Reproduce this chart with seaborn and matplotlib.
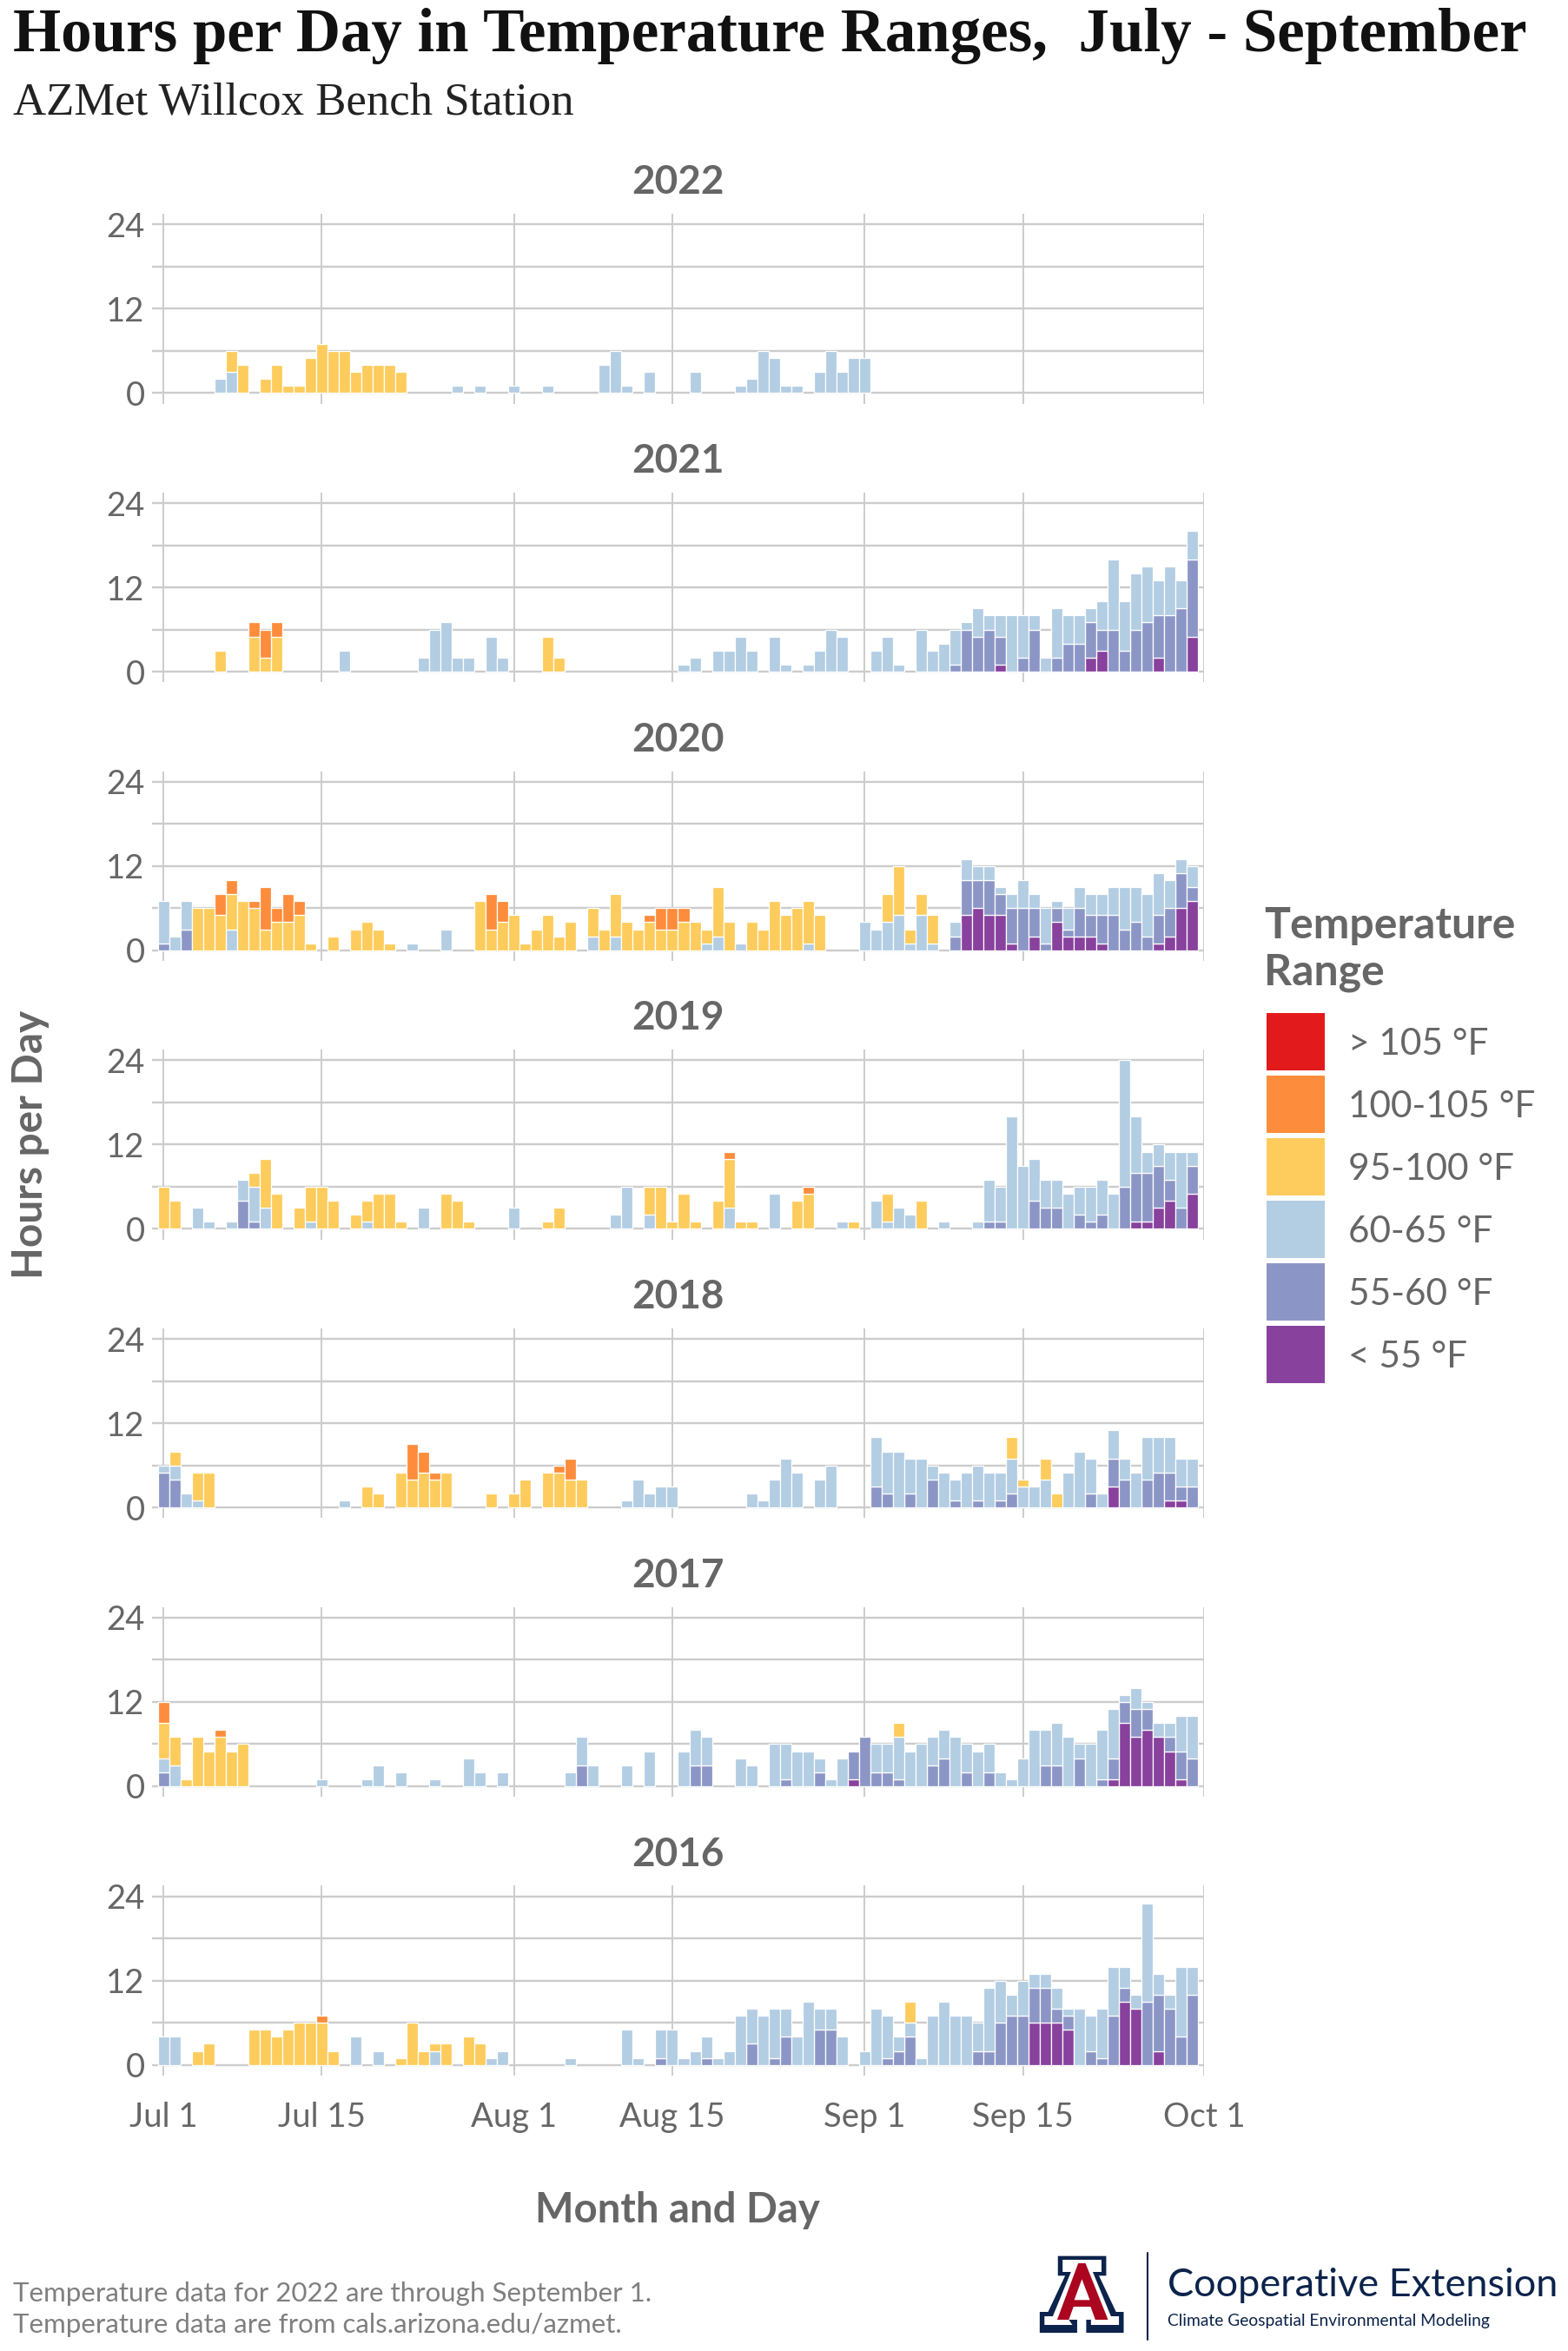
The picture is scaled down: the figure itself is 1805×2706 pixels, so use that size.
import matplotlib
matplotlib.use("Agg")
import matplotlib.pyplot as plt
from matplotlib.patches import Polygon, Rectangle
from matplotlib.lines import Line2D
import pandas as pd
import seaborn as sns

W, H = 1806, 2706

RANGES = ["> 105 °F", "100-105 °F", "95-100 °F", "60-65 °F", "55-60 °F", "< 55 °F"]
COLORS = ["#E31A1C", "#FD8D3C", "#FECC5C", "#B3CDE3", "#8C96C6", "#88419D"]
YEARS = [2022, 2021, 2020, 2019, 2018, 2017, 2016]
X_TICKS = [0, 14, 31, 45, 62, 76, 92]
X_LABELS = ["Jul 1", "Jul 15", "Aug 1", "Aug 15", "Sep 1", "Sep 15", "Oct 1"]
Y_TICKS = [0, 6, 12, 18, 24]
Y_LABELS = ["0", "", "12", "", "24"]

# hours per day, keyed by days since Jul 1
y2022_orange = {}
y2022_yellow = {6:3,7:4,9:2,10:4,11:1,12:1,13:5,14:7,15:6,16:6,17:3,18:4,19:4,20:4,21:3}
y2022_light = {5:2,6:3,26:1,28:1,31:1,34:1,39:4,40:6,41:1,43:3,47:3,51:1,52:2,53:6,54:5,55:1,56:1,58:3,59:6,60:3,61:5,62:5}
y2022_mid = {}
y2022_purple = {}

y2021_orange = {8:2,9:4,10:2}
y2021_yellow = {5:3,8:5,9:2,10:5,34:5,35:2}
y2021_light = {16:3,23:2,24:6,25:7,26:2,27:2,29:5,30:2,46:1,47:2,49:3,50:3,51:5,52:3,54:5,55:1,57:1,58:3,59:6,60:5,63:3,64:5,65:1,67:6,68:3,69:4,70:5,71:1,72:4,73:2,74:3,75:8,76:6,77:2,78:2,79:7,80:4,81:4,82:2,83:4,84:10,85:7,86:8,87:8,88:5,89:7,90:4,91:4}
y2021_mid = {70:1,71:6,72:5,73:6,74:4,76:2,77:6,79:2,80:4,81:4,82:5,83:3,84:6,85:3,86:6,87:7,88:6,89:8,90:9,91:11}
y2021_purple = {74:1,82:2,83:3,88:2,91:5}

y2020_orange = {5:3,6:2,8:1,9:6,10:2,11:4,12:2,29:5,30:3,43:1,44:3,45:3,46:2}
y2020_yellow = {3:6,4:6,5:5,6:5,7:7,8:6,9:3,10:4,11:4,12:5,13:1,15:2,17:3,18:4,19:3,20:1,28:7,29:3,30:4,31:5,32:1,33:3,34:5,35:2,36:4,38:4,39:3,40:6,41:4,42:3,43:4,44:3,45:3,46:4,47:4,48:2,49:7,50:4,52:4,53:3,54:7,55:5,56:6,57:6,58:5,64:4,65:7,66:2,67:3,68:4}
y2020_light = {0:6,1:2,2:4,6:3,22:1,25:3,38:2,40:2,48:1,49:2,51:1,57:1,62:4,63:3,64:4,65:5,66:1,67:5,68:1,70:2,71:3,72:2,73:2,74:1,75:2,76:4,77:2,78:5,79:1,80:3,81:3,82:3,83:3,84:4,85:6,86:5,87:6,88:6,89:4,90:2,91:3}
y2020_mid = {0:1,2:3,70:2,71:5,72:4,73:5,74:3,75:5,76:6,77:4,78:1,79:2,80:1,81:4,82:3,83:4,84:5,85:3,86:4,87:2,88:4,89:4,90:5,91:2}
y2020_purple = {71:5,72:6,73:5,74:5,75:1,77:2,79:4,80:2,81:2,82:2,83:1,88:1,89:2,90:6,91:7}

y2019_orange = {50:1,57:1}
y2019_yellow = {0:6,1:4,8:2,9:7,10:5,12:3,13:5,14:6,15:4,17:2,18:3,19:5,20:5,21:1,25:5,26:4,27:1,34:1,35:3,43:4,44:6,45:1,46:5,47:1,49:4,50:7,51:1,52:1,56:4,57:5,61:1,64:4,67:4}
y2019_light = {3:3,4:1,6:1,7:3,8:5,9:3,13:1,18:1,23:3,31:3,40:2,41:6,43:2,50:3,54:5,60:1,63:4,64:1,65:3,66:2,69:1,72:1,73:6,74:5,75:16,76:9,77:6,78:4,79:4,80:5,81:4,82:5,83:5,84:5,85:18,86:8,87:3,88:3,89:4,90:8,91:2}
y2019_mid = {7:4,8:1,73:1,74:1,77:4,78:3,79:3,81:2,82:1,83:2,85:6,86:7,87:7,88:6,89:3,90:3,91:4}
y2019_purple = {86:1,87:1,88:3,89:4,91:5}

y2018_orange = {22:5,23:3,24:1,35:1,36:3}
y2018_yellow = {1:2,3:4,4:5,18:3,19:2,21:5,22:4,23:5,24:4,25:5,29:2,31:2,32:4,34:5,35:5,36:4,37:4,75:3,76:1,78:3,79:2}
y2018_light = {0:1,1:2,2:2,3:1,16:1,41:1,42:4,43:2,44:3,45:3,52:2,53:1,54:4,55:7,56:5,58:4,59:6,63:7,64:6,65:8,66:5,67:7,68:2,69:5,70:3,71:5,72:5,73:5,74:4,75:5,76:3,77:3,78:4,80:5,81:8,82:5,83:2,84:4,85:3,86:5,87:6,88:5,89:5,90:4,91:4}
y2018_mid = {0:5,1:4,63:3,64:2,66:2,68:4,70:1,72:1,74:1,75:2,82:2,84:4,85:4,87:4,88:5,89:4,90:2,91:3}
y2018_purple = {84:3,89:1,90:1}

y2017_orange = {0:3,5:1}
y2017_yellow = {0:5,1:4,2:1,3:7,4:5,5:7,6:5,7:6,65:2}
y2017_light = {0:2,1:3,14:1,18:1,19:3,21:2,24:1,27:4,28:2,30:2,36:2,37:4,38:3,41:3,43:5,46:5,47:5,48:4,51:4,52:3,54:6,55:5,56:5,57:5,58:2,59:1,60:4,63:4,64:4,65:6,66:5,67:6,68:4,69:4,70:7,71:4,72:5,73:4,74:2,75:1,76:4,77:8,78:5,79:6,80:7,81:2,82:6,83:7,84:7,85:1,86:3,87:1,88:2,89:2,90:5,91:6}
y2017_mid = {0:2,37:3,47:3,48:3,55:1,58:2,61:4,62:7,63:2,64:2,65:1,68:3,69:4,71:2,73:2,78:3,79:3,81:4,83:1,84:3,85:3,86:4,87:3,89:2,90:4,91:4}
y2017_purple = {61:1,84:1,85:9,86:7,87:8,88:7,89:5,90:1}

y2016_orange = {14:1}
y2016_yellow = {3:2,4:3,8:5,9:5,10:4,11:5,12:6,13:6,14:6,15:2,21:1,22:6,23:2,24:1,25:3,27:4,28:3,66:3}
y2016_light = {0:4,1:4,17:4,19:2,24:2,29:1,30:2,36:1,41:5,42:1,44:4,45:5,46:1,47:2,48:3,49:1,50:2,51:7,52:5,53:7,54:7,55:4,56:4,57:9,58:3,59:3,60:4,62:2,63:8,64:6,65:2,66:2,67:1,68:7,69:9,70:7,71:7,72:4,73:9,74:6,75:3,76:5,77:2,78:2,79:3,80:1,81:8,82:5,83:7,84:7,85:3,86:2,87:14,88:3,89:2,90:10,91:4}
y2016_mid = {44:1,48:1,52:3,54:1,55:4,58:5,59:5,64:1,65:2,66:4,72:2,73:2,74:6,75:7,76:7,77:5,78:5,79:2,80:2,82:2,83:1,84:7,85:2,87:9,88:8,89:8,90:4,91:10}
y2016_purple = {77:6,78:6,79:6,80:5,85:9,86:8,88:2}

SERIES = {
    2022: [y2022_orange, y2022_yellow, y2022_light, y2022_mid, y2022_purple],
    2021: [y2021_orange, y2021_yellow, y2021_light, y2021_mid, y2021_purple],
    2020: [y2020_orange, y2020_yellow, y2020_light, y2020_mid, y2020_purple],
    2019: [y2019_orange, y2019_yellow, y2019_light, y2019_mid, y2019_purple],
    2018: [y2018_orange, y2018_yellow, y2018_light, y2018_mid, y2018_purple],
    2017: [y2017_orange, y2017_yellow, y2017_light, y2017_mid, y2017_purple],
    2016: [y2016_orange, y2016_yellow, y2016_light, y2016_mid, y2016_purple],
}

rows = []
for year, parts in SERIES.items():
    for name, part in zip(RANGES[1:], parts):
        for day, hours in part.items():
            rows.append((year, name, day, hours))
df = pd.DataFrame(rows, columns=["year", "range", "day", "hours"])

sns.set_theme(style="whitegrid")
SANS = "Lato"
SERIF = "Liberation Serif"
GREY = "#666666"
GRID = "#CCCCCC"
plt.rcParams["font.family"] = [SANS, "DejaVu Sans"]

fig = plt.figure(figsize=(W / 100, H / 100), dpi=100, facecolor="white")


def ptext(x, y, s, **kw):
    kw.setdefault("va", "center")
    return fig.text(x / W, 1 - y / H, s, **kw)


AX_L, AX_R = 175, 1386
PX_HR = 8.08
TOP24 = 258.3
STEP = 320.73
palette = dict(zip(RANGES, COLORS))

for i, year in enumerate(YEARS):
    y24 = TOP24 + i * STEP
    top, bottom = y24 - 12.2, y24 + 194 + 12.2
    ax = fig.add_axes([AX_L / W, 1 - bottom / H, (AX_R - AX_L) / W, (bottom - top) / H])
    sub = df[df.year == year]
    levels = [r for r in RANGES if r in set(sub["range"])]
    sns.histplot(data=sub, x="day", weights="hours", hue="range", hue_order=levels,
                 palette=palette, multiple="stack", discrete=True, shrink=1.0,
                 alpha=1.0, edgecolor="#FFFFFF", linewidth=0.9, legend=False, ax=ax)
    for patch in list(ax.patches):
        if patch.get_height() == 0:
            patch.remove()
    ax.set_xlim(-1, 92)
    ax.set_ylim(-12.2 / PX_HR, 24 + 12.2 / PX_HR)
    ax.set_axisbelow(True)
    ax.set_xticks(X_TICKS)
    ax.set_yticks(Y_TICKS)
    ax.set_yticklabels(Y_LABELS)
    ax.set_xticklabels(X_LABELS if year == YEARS[-1] else [""] * len(X_TICKS))
    ax.set_xlabel("")
    ax.set_ylabel("")
    ax.grid(True, color=GRID, linewidth=1.7)
    ax.grid(True, axis="x", color=GRID, linewidth=1.4)
    ax.tick_params(length=0, labelsize=27.5, labelcolor=GREY, pad=6)
    ax.tick_params(axis="x", pad=22)
    for s in ax.spines.values():
        s.set_visible(False)
    ptext((AX_L + AX_R) / 2, y24 - 48, str(year), fontsize=33, fontweight="bold", color=GREY, ha="center")

# titles
ptext(15, 41, "Hours per Day in Temperature Ranges,  July - September", family=SERIF,
      fontweight="bold", fontsize=51, color="#111111")
ptext(15, 119, "AZMet Willcox Bench Station", family=SERIF, fontsize=38, color="#222222")
ptext(780, 2544, "Month and Day", fontsize=34, fontweight="bold", color=GREY, ha="center")
ptext(35, 1317, "Hours per Day", fontsize=34.4, fontweight="bold", color=GREY, ha="center", rotation=90)

# legend
ptext(1455, 1066, "Temperature", fontsize=36, fontweight="bold", color=GREY)
ptext(1455, 1120, "Range", fontsize=36, fontweight="bold", color=GREY)
for k, (name, col) in enumerate(zip(RANGES, COLORS)):
    yt = 1166 + k * 71.9
    fig.add_artist(Rectangle((1458 / W, 1 - (yt + 66) / H), 67 / W, 66 / H, transform=fig.transFigure,
                             facecolor=col, edgecolor="none"))
    ptext(1552, yt + 36, name, fontsize=30.5, color=GREY)

# footer
ptext(15, 2640, "Temperature data for 2022 are through September 1.", fontsize=22.5, color="#7F7F7F")
ptext(15, 2676, "Temperature data are from cals.arizona.edu/azmet.", fontsize=22.5, color="#7F7F7F")


# logo
def logo_poly(pts, color):
    xy = [((1150 + px / 2.39) / W, 1 - (2540 + py / 3) / H) for px, py in pts]
    fig.add_artist(Polygon(xy, closed=True, transform=fig.transFigure, facecolor=color, edgecolor="none"))


NAVY = "#0C234B"
RED = "#AB0520"
logo_poly([(162,170),(295,170),(295,238),(275,238),(322,363),(343,363),(343,435),(240,435),(240,365),(262,365),
           (254,345),(203,345),(195,365),(215,365),(215,435),(112,435),(112,363),(135,363),(182,238),(162,238)], NAVY)
logo_poly([(175,183),(282,183),(282,225),(258,225),(308,378),(330,378),(330,408),(253,408),(253,390),(192,390),
           (202,408),(125,408),(125,378),(148,378),(198,225),(175,225)], "#FFFFFF")
logo_poly([(218,195),(238,195),(300,390),(265,390),(252,345),(205,345),(192,390),(160,390)], RED)
logo_poly([(228,250),(250,322),(207,322)], "#FFFFFF")
fig.add_artist(Line2D([1320.7 / W] * 2, [1 - 2592.7 / H, 1 - 2693 / H], color=NAVY, linewidth=1.5,
                      transform=fig.transFigure))
ptext(1344, 2643, "Cooperative Extension", family="Lato", fontsize=32.5, color=NAVY, va="baseline")
ptext(1344, 2677, "Climate Geospatial Environmental Modeling", family="Lato", fontsize=13.9, color=NAVY, va="baseline")

fig.savefig("out.png", dpi=100, facecolor="white")
